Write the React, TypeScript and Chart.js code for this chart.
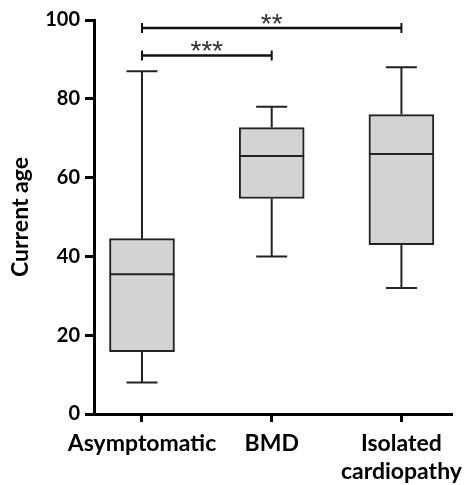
import React, { useEffect, useRef } from "react";
import { Chart, registerables } from "chart.js";

Chart.register(...registerables);

const CATEGORIES: (string | string[])[] = ["Asymptomatic", "BMD", ["Isolated", "cardiopathy"]];
const MINS = [8, 40, 32];
const Q1S = [15.8, 54.7, 43];
const MEDIANS = [35.5, 65.5, 66];
const Q3S = [44.5, 72.7, 76];
const MAXS = [87, 78, 88];
const Y_TICKS = [0, 20, 40, 60, 80, 100];
const BRACKET_FROM = [0, 0];
const BRACKET_TO = [1, 2];
const BRACKET_Y = [91, 98];
const BRACKET_LABELS = ["***", "**"];

const INK = "#222222";

const boxPlugin = {
  id: "boxExtras",
  afterDatasetsDraw(chart: any) {
    const { ctx, scales } = chart;
    const xs = scales.x;
    const ys = scales.y;
    const boxHalf = 32.5;
    const capHalf = 15.5;
    ctx.save();
    ctx.strokeStyle = INK;
    ctx.lineCap = "butt";
    for (let i = 0; i < CATEGORIES.length; i++) {
      const x = xs.getPixelForValue(i);
      ctx.lineWidth = 2;
      ctx.beginPath();
      ctx.moveTo(x, ys.getPixelForValue(Q3S[i]));
      ctx.lineTo(x, ys.getPixelForValue(MAXS[i]));
      ctx.moveTo(x, ys.getPixelForValue(Q1S[i]));
      ctx.lineTo(x, ys.getPixelForValue(MINS[i]));
      ctx.moveTo(x - capHalf, ys.getPixelForValue(MAXS[i]));
      ctx.lineTo(x + capHalf, ys.getPixelForValue(MAXS[i]));
      ctx.moveTo(x - capHalf, ys.getPixelForValue(MINS[i]));
      ctx.lineTo(x + capHalf, ys.getPixelForValue(MINS[i]));
      ctx.stroke();
      ctx.beginPath();
      ctx.moveTo(x - boxHalf, ys.getPixelForValue(MEDIANS[i]));
      ctx.lineTo(x + boxHalf, ys.getPixelForValue(MEDIANS[i]));
      ctx.stroke();
    }
    for (let b = 0; b < BRACKET_Y.length; b++) {
      const x1 = xs.getPixelForValue(BRACKET_FROM[b]);
      const x2 = xs.getPixelForValue(BRACKET_TO[b]);
      const y = ys.getPixelForValue(BRACKET_Y[b]);
      ctx.strokeStyle = "#111";
      ctx.lineWidth = 2.5;
      ctx.beginPath();
      ctx.moveTo(x1, y);
      ctx.lineTo(x2, y);
      ctx.stroke();
      ctx.lineWidth = 2;
      ctx.beginPath();
      ctx.moveTo(x1, y - 5);
      ctx.lineTo(x1, y + 5);
      ctx.moveTo(x2, y - 5);
      ctx.lineTo(x2, y + 5);
      ctx.stroke();
      ctx.fillStyle = "#333";
      ctx.font = "28px 'Liberation Sans'";
      ctx.textAlign = "center";
      ctx.textBaseline = "alphabetic";
      ctx.fillText(BRACKET_LABELS[b], (x1 + x2) / 2, y + 5);
    }
    ctx.restore();
  },
};

export default function App() {
  const ref = useRef<HTMLCanvasElement | null>(null);
  useEffect(() => {
    if (!ref.current) return;
    const chart = new Chart(ref.current, {
      type: "bar",
      data: {
        datasets: [
          {
            data: CATEGORIES.map((_, i) => ({ x: i, y: [Q1S[i], Q3S[i]] })) as any,
            backgroundColor: "#d3d3d3",
            borderColor: INK,
            borderWidth: 2,
            borderSkipped: false,
            barThickness: 65,
          },
        ],
      },
      plugins: [boxPlugin],
      options: {
        animation: false,
        responsive: false,
        layout: { padding: { top: 20, right: 13, left: 0, bottom: 0 } },
        plugins: { legend: { display: false }, tooltip: { enabled: false } },
        scales: {
          x: {
            type: "linear",
            offset: false,
            min: -0.37,
            max: 2.39,
            afterBuildTicks: (scale: any) => {
              scale.ticks = CATEGORIES.map((_, i) => ({ value: i }));
            },
            afterFit: (scale: any) => {
              scale.height = 71;
              scale.paddingLeft = 0;
              scale.paddingRight = 0;
            },
            ticks: {
              callback: (v: any) => CATEGORIES[v as number],
              font: { family: "Lato", size: 23, weight: "bold" },
              color: "#000",
              padding: 8,
              maxRotation: 0,
              autoSkip: false,
            },
            grid: {
              display: true,
              offset: false,
              drawOnChartArea: false,
              drawTicks: true,
              tickLength: 8,
              tickWidth: 3,
              tickColor: "#000",
            },
            border: { display: true, width: 3, color: "#000" },
          },
          y: {
            min: 0,
            max: 100,
            afterBuildTicks: (scale: any) => {
              scale.ticks = Y_TICKS.map((v) => ({ value: v }));
            },
            afterFit: (scale: any) => {
              scale.width = 94;
            },
            ticks: {
              font: { family: "Lato", size: 20, weight: "bold" },
              color: "#000",
              padding: 5,
            },
            grid: {
              display: true,
              drawOnChartArea: false,
              drawTicks: true,
              tickLength: 9,
              tickWidth: 3,
              tickColor: "#000",
            },
            border: { display: true, width: 3, color: "#000" },
            title: {
              display: true,
              text: "Current age",
              font: { family: "Lato", size: 23, weight: "bold" },
              color: "#000",
              padding: { top: 7, bottom: 0 },
            },
          },
        },
      },
    });
    return () => chart.destroy();
  }, []);
  return (
    <div style={{ position: "absolute", left: 0, top: 0, width: 465, height: 485 }}>
      <canvas ref={ref} width={465} height={485} style={{ display: "block" }} />
    </div>
  );
}
